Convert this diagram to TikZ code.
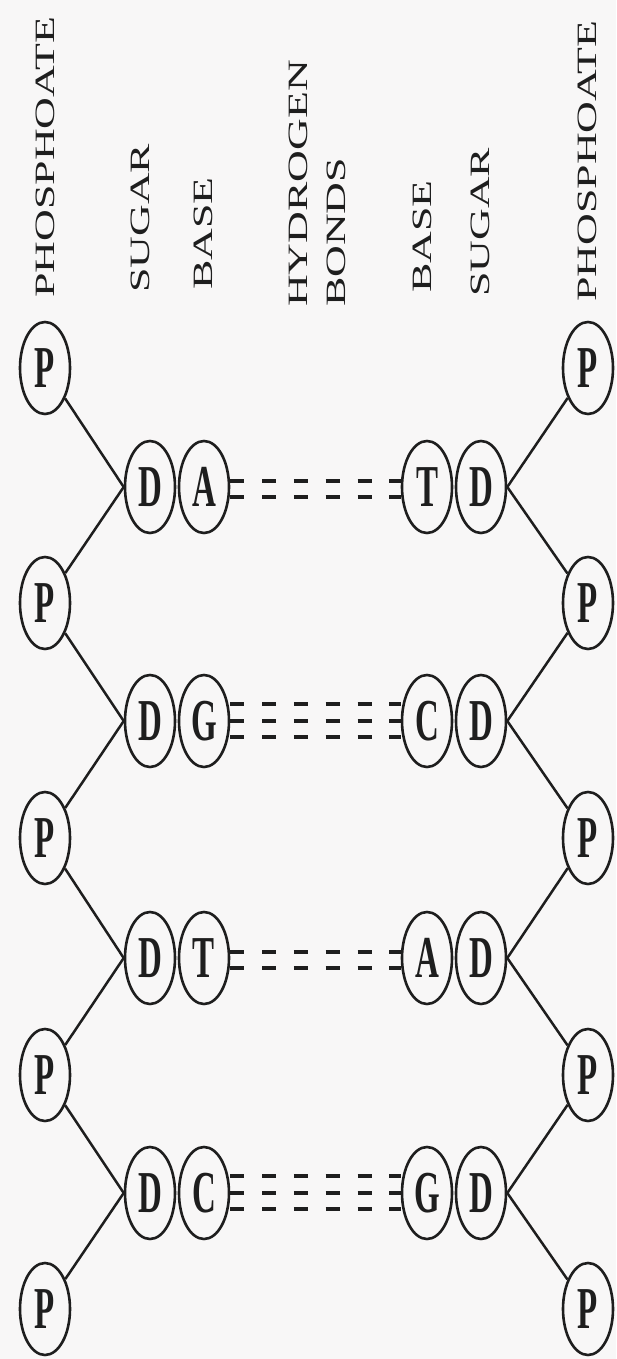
\documentclass[tikz,border=0pt]{standalone}
\usepackage{fontspec}
\setmainfont{Liberation Serif}
\usetikzlibrary{shapes.geometric}
\newcommand\vstretch[1]{\scalebox{1}[1.8]{#1}}
\newcommand\hstretch[1]{\scalebox{1.57}[1]{#1}}
\definecolor{bg}{RGB}{248,247,247}
\definecolor{ink}{RGB}{30,30,30}
\begin{document}
\begin{tikzpicture}[x=1pt,y=-1pt,
  ball/.style={ellipse, draw=ink, line width=2.6pt, minimum width=50pt, minimum height=92pt, inner sep=0pt, text=ink, font=\bfseries\fontsize{33}{33}\selectfont},
  lbl/.style={rotate=90, anchor=west, inner sep=0pt, text=ink, font=\fontsize{28}{30}\selectfont},
  backbone/.style={draw=ink, line width=2.5pt},
  hbond/.style={draw=ink, line width=4pt, dash pattern=on 14pt off 17.8pt}]
\fill[bg] (0,0) rectangle (616,1359);
\useasboundingbox (0,0) rectangle (616,1359);
% labels
\node[lbl] (phosL) at (45,298) {\hstretch{PHOSPHOATE}};
\node[lbl] (sugL) at (140,293) {\hstretch{SUGAR}};
\node[lbl] (baseL) at (203,290) {\hstretch{BASE}};
\node[lbl] (hyd) at (298,307) {\hstretch{HYDROGEN}};
\node[lbl] (bonds) at (336,307) {\hstretch{BONDS}};
\node[lbl] (baseR) at (422,293) {\hstretch{BASE}};
\node[lbl] (sugR) at (480,297) {\hstretch{SUGAR}};
\node[lbl] (phosR) at (587,302) {\hstretch{PHOSPHOATE}};
% phosphates
\foreach \i/\y in {1/368,2/603,3/838,4/1075,5/1309} {
  \node[ball] (pL\i) at (45,\y) {\vstretch{P}};
  \node[ball] (pR\i) at (588,\y) {\vstretch{P}};
}
% sugars and bases
\foreach \i/\y/\l/\r in {1/487/A/T, 2/721/G/C, 3/958/T/A, 4/1193/C/G} {
  \node[ball] (dL\i) at (150,\y) {\vstretch{D}};
  \node[ball] (bL\i) at (204,\y) {\vstretch{\l}};
  \node[ball] (bR\i) at (427,\y) {\vstretch{\r}};
  \node[ball] (dR\i) at (481,\y) {\vstretch{D}};
}
% backbones
\foreach \i in {1,...,4} {
  \pgfmathtruncatemacro\j{\i+1}
  \draw[backbone] (pL\i) -- (dL\i.west) -- (pL\j);
  \draw[backbone] (pR\i) -- (dR\i.east) -- (pR\j);
}
% hydrogen bonds
\foreach \i in {1,3} {
  \foreach \d in {6,-10} {
    \draw[hbond] ([yshift=\d pt]bL\i.east) -- ([yshift=\d pt]bR\i.west);
  }
}
\foreach \i in {2,4} {
  \foreach \d in {17,0,-16} {
    \draw[hbond] ([yshift=\d pt]bL\i.east) -- ([yshift=\d pt]bR\i.west);
  }
}
\end{tikzpicture}
\end{document}
